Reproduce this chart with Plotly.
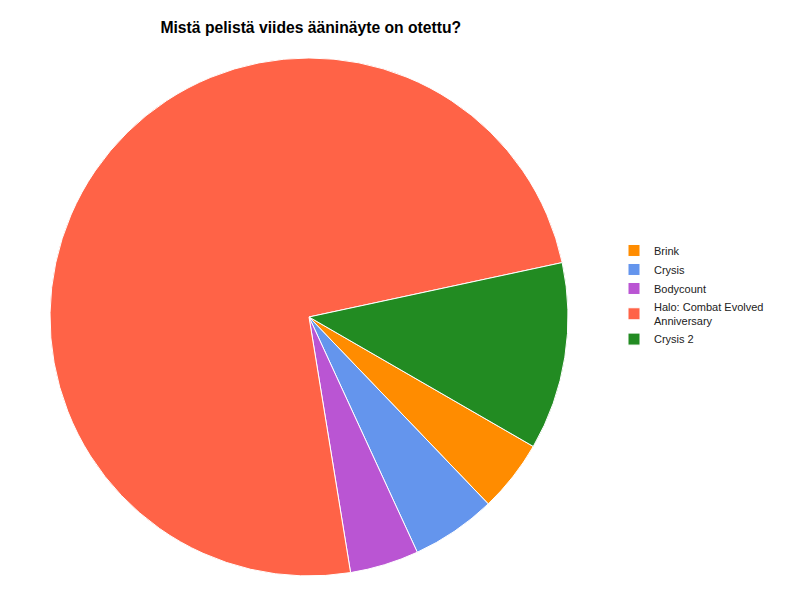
import plotly.graph_objects as go

# vastaukset prosentteina (luettu kuvasta)
games = ['Brink', 'Crysis', 'Bodycount', 'Halo: Combat Evolved<br>Anniversary', 'Crysis 2']
shares = [4.5, 5.3, 4.3, 74.2, 11.7]
colors = ['#FF8C00', '#6495ED', '#BA55D3', '#FF6347', '#228B22']

font_name = 'Liberation Sans, Arial, sans-serif'

trace = go.Pie(
    labels=games,
    values=shares,
    sort=False,
    direction='clockwise',
    rotation=120,
    textinfo='none',
    marker=dict(colors=colors, line=dict(color='white', width=1)),
    domain=dict(x=[0.0525, 0.70], y=[0.0534, 0.9167]),
)

layout = go.Layout(
    width=800,
    height=600,
    margin=dict(l=0, r=0, t=0, b=0),
    paper_bgcolor='white',
    title=dict(
        text='<b>Mistä pelistä viides ääninäyte on otettu?</b>',
        x=0.3785, xanchor='center',
        y=0.967, yanchor='middle',
        font=dict(family=font_name, size=15.7, color='black'),
    ),
    legend=dict(
        x=0.7575, xanchor='left',
        y=0.5217, yanchor='middle',
        font=dict(family=font_name, size=11, color='#222222'),
        tracegroupgap=0,
    ),
)

fig = go.Figure(data=[trace], layout=layout)
fig.write_html('out.html')
